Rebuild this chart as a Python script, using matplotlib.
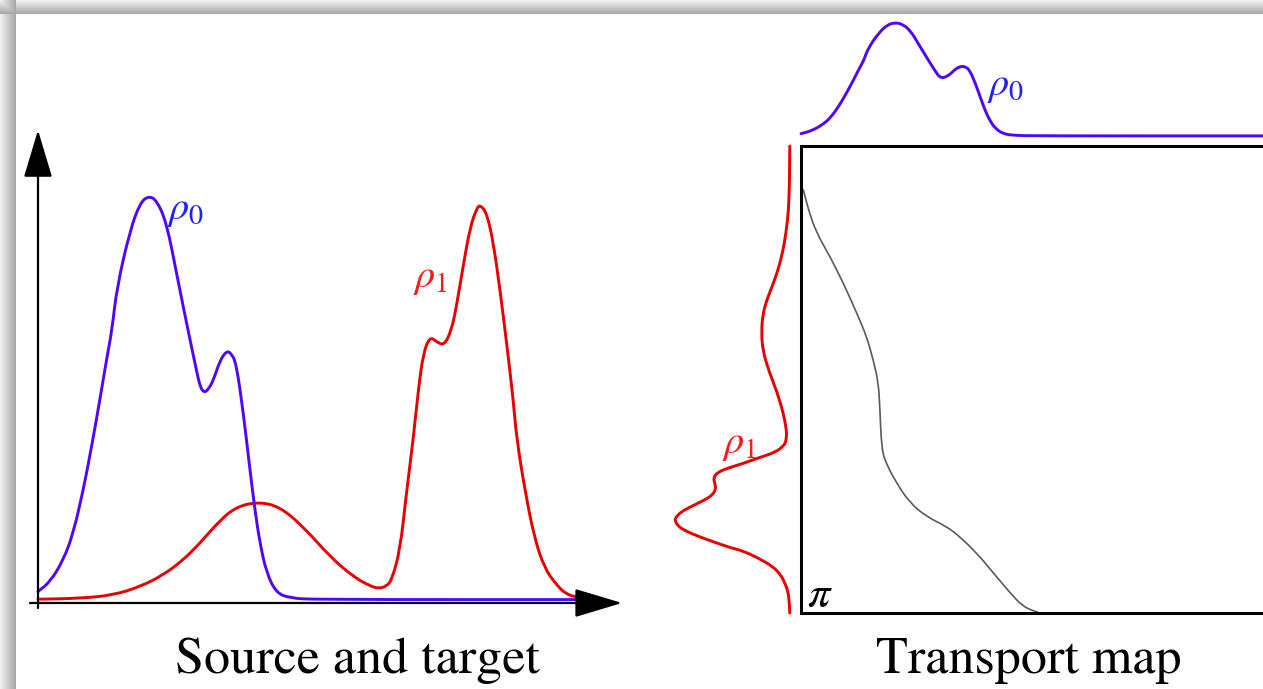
"""Source/target densities and the monotone transport map between them."""

import matplotlib

matplotlib.use("Agg")
import matplotlib.pyplot as plt
import numpy as np
from matplotlib.patches import PathPatch
from matplotlib.path import Path

plt.rcParams["mathtext.fontset"] = "stix"
plt.rcParams["font.family"] = "STIXGeneral"

# source density rho_0 (position t in [0, 1], height normalised to the peak)
rho0_t = [0.000, 0.022, 0.046, 0.064, 0.082, 0.097, 0.112, 0.124, 0.134, 0.143,
          0.167, 0.185, 0.200, 0.215, 0.233, 0.251, 0.269, 0.288, 0.294, 0.301,
          0.309, 0.318, 0.330, 0.342, 0.350, 0.359, 0.372, 0.384, 0.393, 0.402,
          0.414, 0.432, 0.457, 0.498, 1.000]
rho0_d = [0.021, 0.045, 0.099, 0.166, 0.272, 0.379, 0.495, 0.594, 0.668, 0.775,
          0.916, 0.983, 1.000, 0.990, 0.933, 0.809, 0.686, 0.562, 0.527, 0.513,
          0.522, 0.545, 0.594, 0.617, 0.610, 0.587, 0.463, 0.322, 0.223, 0.141,
          0.067, 0.017, 0.005, 0.001, 0.001]

# target density rho_1
rho1_t = [0.000, 0.076, 0.136, 0.185, 0.227, 0.263, 0.293, 0.330, 0.360, 0.399,
          0.438, 0.481, 0.529, 0.572, 0.601, 0.618, 0.632, 0.641, 0.656, 0.667,
          0.680, 0.689, 0.698, 0.710, 0.722, 0.736, 0.749, 0.758, 0.770, 0.783,
          0.795, 0.801, 0.813, 0.825, 0.837, 0.849, 0.861, 0.867, 0.882, 0.900,
          0.918, 0.935, 0.955, 0.982, 1.000]
rho1_d = [0.002, 0.004, 0.012, 0.033, 0.062, 0.099, 0.140, 0.198, 0.231, 0.243,
          0.231, 0.181, 0.107, 0.057, 0.035, 0.028, 0.035, 0.050, 0.124, 0.260,
          0.401, 0.520, 0.611, 0.652, 0.639, 0.630, 0.668, 0.726, 0.825, 0.924,
          0.970, 0.978, 0.958, 0.884, 0.767, 0.636, 0.495, 0.401, 0.272, 0.149,
          0.079, 0.045, 0.015, 0.005, 0.002]

# transport map: source position u -> target position v
map_u = [0.005, 0.016, 0.033, 0.062, 0.090, 0.119, 0.140, 0.154, 0.165, 0.168,
         0.172, 0.183, 0.204, 0.232, 0.268, 0.311, 0.339, 0.375, 0.410, 0.446,
         0.474, 0.506]
map_v = [0.094, 0.137, 0.186, 0.237, 0.293, 0.358, 0.408, 0.458, 0.507, 0.558,
         0.651, 0.683, 0.722, 0.764, 0.794, 0.815, 0.837, 0.872, 0.914, 0.957,
         0.987, 0.999]

BLUE = "#5005ff"
RED = "#e80000"
W, H = 1263, 689

fig = plt.figure(figsize=(W / 100, H / 100), dpi=100)


def px_axes(left, top, right, bottom):
    """Add an axes given its edges in pixels from the top-left corner."""
    a = fig.add_axes([left / W, 1 - bottom / H, (right - left) / W, (bottom - top) / H])
    a.patch.set_visible(False)
    return a


def smooth_line(a, xs, ys, **kw):
    """Draw the sampled points as a smooth quadratic-spline path."""
    pts = np.column_stack([xs, ys])
    mids = (pts[:-1] + pts[1:]) / 2
    verts = [pts[0], mids[0]]
    codes = [Path.MOVETO, Path.LINETO]
    for i in range(1, len(pts) - 1):
        verts += [pts[i], mids[i]]
        codes += [Path.CURVE3, Path.CURVE3]
    verts.append(pts[-1])
    codes.append(Path.LINETO)
    a.add_patch(PathPatch(Path(verts, codes), fill=False, clip_on=False,
                          capstyle="round", joinstyle="round", **kw))


# soft grey frame along the top and left edges
bg = fig.add_axes([0, 0, 1, 1], zorder=-10)
rows = np.arange(H)[:, None].astype(float)
cols = np.arange(W)[None, :].astype(float)
top_band = np.where(rows < 14, 0.94 - 0.28 * rows / 13, 1.0)
left_band = np.where(cols < 16, 0.94 - 0.28 * cols / 15, 1.0)
shade = np.minimum(top_band, left_band)
bg.imshow(shade, cmap="gray", vmin=0, vmax=1, aspect="auto",
          interpolation="nearest", extent=(0, W, H, 0))
bg.axis("off")

arrow = dict(arrowstyle="-|>,head_length=3.0,head_width=0.9", mutation_scale=10,
             color="black", lw=1.6, shrinkA=0, shrinkB=0)

# left panel: both densities on one set of axes
ax = px_axes(38, 196, 590, 600)
ax.set_xlim(0, 1)
ax.set_ylim(0, 1)
ax.axis("off")
ax.annotate("", xy=(1.058, -0.0074), xytext=(-0.0145, -0.0074),
            arrowprops=arrow, annotation_clip=False)
ax.annotate("", xy=(0, 1.163), xytext=(0, -0.02),
            arrowprops=arrow, annotation_clip=False)
smooth_line(ax, rho1_t, rho1_d, edgecolor=RED, lw=2.1)
smooth_line(ax, rho0_t, rho0_d, edgecolor=BLUE, lw=2.1)
ax.text(0.234, 0.965, r"$\rho_0$", color="#2020ff", fontsize=29,
        ha="left", va="center")
ax.text(0.679, 0.797, r"$\rho_1$", color="#ff1a1a", fontsize=29,
        ha="left", va="center")

# right panel: coupling box with the two marginals
box = px_axes(801, 146, 1270, 613)
box.set_xlim(0, 1)
box.set_ylim(1, 0)
box.set_xticks([])
box.set_yticks([])
for sp in box.spines.values():
    sp.set_linewidth(2.2)
smooth_line(box, map_u, map_v, edgecolor="#5a5a5a", lw=1.2)
box.text(0.012, 0.966, r"$\pi$", fontsize=32, ha="left", va="center")

top = px_axes(801, 136 - 113.3, 1270, 136)
top.set_xlim(0, 1)
top.set_ylim(0, 1)
top.axis("off")
smooth_line(top, rho0_t, rho0_d, edgecolor=BLUE, lw=2.1)
top.text(0.397, 0.44, r"$\rho_0$", color="#2020ff", fontsize=29,
         ha="left", va="center")

side = px_axes(790 - 117.6, 146, 790, 613)
side.set_xlim(1, 0)
side.set_ylim(1, 0)
side.axis("off")
smooth_line(side, rho1_d, rho1_t, edgecolor=RED, lw=2.1)
side.text(0.578, 0.638, r"$\rho_1$", color="#ff1a1a", fontsize=29,
          ha="left", va="center")

fig.text(357.5 / W, 1 - 673 / H, "Source and target", fontsize=37.5,
         ha="center", va="baseline")
fig.text(1029 / W, 1 - 673 / H, "Transport map", fontsize=37.5,
         ha="center", va="baseline")

fig.savefig("out.png", dpi=100)
